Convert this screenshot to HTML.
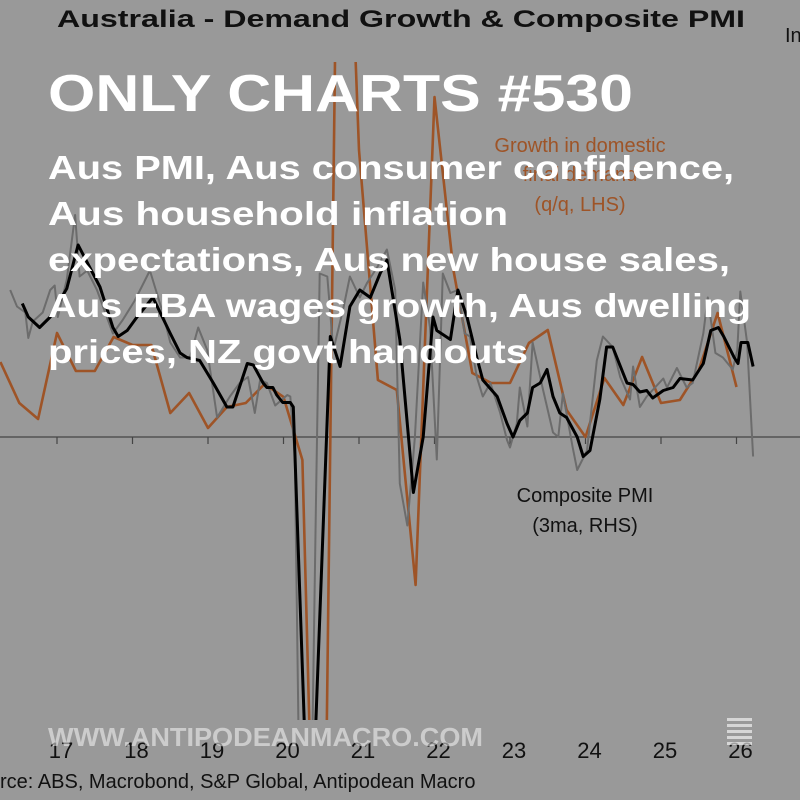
<!DOCTYPE html>
<html><head><meta charset="utf-8"><style>
html,body{margin:0;padding:0;background:#999999;width:800px;height:800px;overflow:hidden;}
svg{display:block;}
</style></head><body>
<svg id="chart" width="800" height="800" viewBox="0 0 800 800" xmlns="http://www.w3.org/2000/svg" font-family="'Liberation Sans', sans-serif">
<rect x="0" y="0" width="800" height="800" fill="#999999"/>
<defs><clipPath id="plotclip"><rect x="0" y="62" width="800" height="658"/></clipPath></defs>
<text x="57" y="27" font-size="24" font-weight="bold" fill="#111" textLength="688" lengthAdjust="spacingAndGlyphs">Australia - Demand Growth &amp; Composite PMI</text>
<text x="785" y="42" font-size="20" fill="#111">In</text>
<line x1="0" y1="437" x2="800" y2="437" stroke="#444" stroke-width="1.2"/>
<g id="ticks"></g>
<g id="xlabels" font-size="22" fill="#111"></g>
<g clip-path="url(#plotclip)">
<path id="orange" fill="none" stroke="#9e5427" stroke-width="2.6" stroke-linejoin="round"/>
<path id="gray" fill="none" stroke="#6c6c6c" stroke-width="2" stroke-linejoin="round"/>
<path id="black" fill="none" stroke="#000" stroke-width="3" stroke-linejoin="round"/>
</g>
<text x="580" y="152" font-size="20" fill="#9e5427" text-anchor="middle">Growth in domestic</text>
<text x="580" y="181" font-size="20" fill="#9e5427" text-anchor="middle">final demand</text>
<text x="580" y="211" font-size="20" fill="#9e5427" text-anchor="middle">(q/q, LHS)</text>
<text x="585" y="502" font-size="20" fill="#111" text-anchor="middle">Composite PMI</text>
<text x="585" y="532" font-size="20" fill="#111" text-anchor="middle">(3ma, RHS)</text>
<text x="0" y="788" font-size="20" fill="#111">rce: ABS, Macrobond, S&amp;P Global, Antipodean Macro</text>
<text x="48" y="111" font-size="52" font-weight="bold" fill="#fff" textLength="585" lengthAdjust="spacingAndGlyphs">ONLY CHARTS #530</text>
<g font-size="33" font-weight="bold" fill="#fff">
<text x="48" y="179" textLength="686" lengthAdjust="spacingAndGlyphs">Aus PMI, Aus consumer confidence,</text>
<text x="48" y="225" textLength="460" lengthAdjust="spacingAndGlyphs">Aus household inflation</text>
<text x="48" y="271" textLength="682" lengthAdjust="spacingAndGlyphs">expectations, Aus new house sales,</text>
<text x="48" y="317" textLength="703" lengthAdjust="spacingAndGlyphs">Aus EBA wages growth, Aus dwelling</text>
<text x="48" y="363" textLength="480" lengthAdjust="spacingAndGlyphs">prices, NZ govt handouts</text>
</g>
<text x="48" y="746" font-size="26" font-weight="bold" fill="#fff" fill-opacity="0.5" textLength="435" lengthAdjust="spacingAndGlyphs">WWW.ANTIPODEANMACRO.COM</text>
<g fill="#fff" fill-opacity="0.6">
<rect x="727" y="718" width="25" height="3"/><rect x="727" y="724" width="25" height="3"/><rect x="727" y="730" width="25" height="3"/><rect x="727" y="736" width="25" height="3"/><rect x="727" y="742" width="25" height="3"/>
</g>
</svg>
<script>
const years = [2017,2018,2019,2020,2021,2022,2023,2024,2025,2026];
const yearLabels = ["17","18","19","20","21","22","23","24","25","26"];
const demandDates = [2016.25,2016.5,2016.75,2017,2017.25,2017.5,2017.75,2018,2018.25,2018.5,2018.75,2019,2019.25,2019.5,2019.75,2020,2020.25,2020.5,2020.75,2021,2021.25,2021.5,2021.75,2022,2022.25,2022.5,2022.75,2023,2023.25,2023.5,2023.75,2024,2024.25,2024.5,2024.75,2025,2025.25,2025.5,2025.75,2026];
const demandValues = [0.75,0.34,0.18,1.04,0.66,0.66,1.00,0.92,0.92,0.24,0.44,0.09,0.30,0.34,0.53,0.40,-0.23,-7.4,7.9,2.87,0.57,0.47,-1.48,3.40,1.67,0.64,0.54,0.54,0.94,1.07,0.27,0.00,0.59,0.32,0.80,0.34,0.37,0.67,1.24,0.50];
const pmiDates = [2016.38,2016.47,2016.58,2016.62,2016.68,2016.81,2016.91,2016.97,2017.01,2017.13,2017.24,2017.30,2017.40,2017.53,2017.66,2017.74,2017.87,2018.03,2018.23,2018.40,2018.50,2018.63,2018.76,2018.87,2018.99,2019.12,2019.29,2019.42,2019.53,2019.62,2019.69,2019.78,2019.89,2020.05,2020.09,2020.15,2020.22,2020.35,2020.43,2020.48,2020.58,2020.66,2020.79,2020.88,2021.01,2021.11,2021.24,2021.37,2021.48,2021.54,2021.64,2021.74,2021.85,2021.94,2022.03,2022.11,2022.21,2022.31,2022.40,2022.47,2022.56,2022.64,2022.74,2022.87,2022.96,2023.00,2023.09,2023.13,2023.23,2023.30,2023.44,2023.57,2023.64,2023.70,2023.83,2023.89,2024.02,2024.15,2024.23,2024.36,2024.46,2024.59,2024.63,2024.72,2024.81,2025.03,2025.08,2025.21,2025.34,2025.42,2025.56,2025.62,2025.72,2025.82,2025.95,2026.01,2026.05,2026.14,2026.22];
const pmiValues = [59.8,58.7,58.3,56.6,57.7,58.3,59.8,60.1,58.0,60.5,64.8,60.7,61.1,59.8,58.0,56.9,57.8,59.1,61.1,58.3,56.3,55.3,55.3,57.3,55.8,51.3,52.7,53.6,54.0,51.6,53.8,53.6,52.1,52.8,52.7,48.7,22.5,19.1,45.8,60.9,60.7,55.8,58.5,60.7,59.3,60.3,61.3,62.5,59.8,46.9,44.1,50.0,60.3,57.3,48.5,60.9,59.6,59.8,56.9,56.7,54.0,52.7,53.6,51.6,49.8,49.3,50.9,53.3,50.7,56.3,53.1,50.3,50.0,52.9,49.3,47.8,49.1,55.1,56.7,56.0,54.0,52.5,54.7,52.0,52.7,53.9,53.3,54.6,53.3,53.6,56.9,59.3,55.6,55.3,54.5,55.8,59.7,56.3,48.7];
const pmi3maDates = [2016.54,2016.62,2016.77,2016.91,2017.13,2017.28,2017.57,2017.74,2017.81,2017.93,2018.06,2018.27,2018.50,2018.63,2018.72,2018.89,2019.07,2019.25,2019.33,2019.52,2019.60,2019.73,2019.78,2019.86,2019.91,2019.99,2020.09,2020.13,2020.31,2020.39,2020.62,2020.75,2020.88,2021.01,2021.15,2021.28,2021.37,2021.54,2021.72,2021.85,2021.98,2022.03,2022.21,2022.31,2022.43,2022.56,2022.64,2022.83,2022.96,2023.04,2023.13,2023.23,2023.30,2023.40,2023.49,2023.57,2023.66,2023.75,2023.89,2023.97,2024.06,2024.19,2024.28,2024.36,2024.55,2024.63,2024.72,2024.81,2024.89,2025.03,2025.16,2025.25,2025.42,2025.56,2025.66,2025.76,2025.83,2025.97,2026.02,2026.06,2026.15,2026.22];
const pmi3maValues = [58.9,58.0,57.3,58.0,59.9,62.8,60.0,57.3,56.7,57.1,58.0,59.3,56.9,55.6,55.3,55.1,53.6,52.0,52.0,54.9,54.8,53.6,53.3,53.3,52.8,52.3,52.3,52.0,25.8,25.8,56.7,54.7,58.7,59.8,59.3,60.9,61.8,56.5,46.3,50.0,58.0,57.1,56.5,59.8,58.0,55.3,53.8,52.7,50.9,50.0,51.1,51.6,53.3,53.6,54.5,52.7,51.6,51.3,50.0,48.7,49.1,52.5,56.0,56.0,53.6,53.5,53.0,53.1,52.6,53.1,53.3,53.9,53.8,54.9,57.1,57.3,56.7,55.3,54.9,56.3,56.3,54.7];

const Y_MIN = 4, Y_MAX = 790;
function xAt(t){ return 57 + (t - 2017) * 75.5; }
function yLhs(v){ return 437 - v * 100; }
function yRhs(v){ return 437 - (v - 50) * 15; }
function clampY(y){ return Math.max(Y_MIN, Math.min(Y_MAX, y)); }
function pathFrom(ds, vs, yf){
  const pts = [];
  for (let i = 0; i < ds.length; i++) pts.push([xAt(ds[i]), yf(vs[i])]);
  const out = [];
  for (let i = 0; i < pts.length; i++) {
    const [x1, y1] = pts[i];
    if (i > 0) {
      const [x0, y0] = pts[i - 1];
      [Y_MIN, Y_MAX].forEach(b => {
        if ((y0 - b) * (y1 - b) < 0) {
          const xb = x0 + (x1 - x0) * (b - y0) / (y1 - y0);
          out.push([xb, b]);
        }
      });
      if (out.length >= 2) {
        const a = out[out.length - 1], c = out[out.length - 2];
        if (out.length >= 2 && a[0] < c[0]) { out[out.length - 1] = c; out[out.length - 2] = a; }
      }
    }
    out.push([x1, clampY(y1)]);
  }
  let d = "";
  out.forEach((p, i) => { d += (i ? "L" : "M") + p[0].toFixed(1) + " " + p[1].toFixed(1); });
  return d;
}
document.getElementById('orange').setAttribute('d', pathFrom(demandDates, demandValues, yLhs));
document.getElementById('gray').setAttribute('d', pathFrom(pmiDates, pmiValues, yRhs));
document.getElementById('black').setAttribute('d', pathFrom(pmi3maDates, pmi3maValues, yRhs));

const NS = "http://www.w3.org/2000/svg";
const tg = document.getElementById('ticks');
const lg = document.getElementById('xlabels');
for (let i = 0; i < years.length; i++) {
  const x = xAt(years[i]);
  const tk = document.createElementNS(NS, 'line');
  
  
  tk.setAttribute('x1', x); tk.setAttribute('x2', x);
  tk.setAttribute('y1', 437); tk.setAttribute('y2', 444);
  tk.setAttribute('stroke', '#444'); tk.setAttribute('stroke-width', '1.2');
  tg.appendChild(tk);
  const lb = document.createElementNS(NS, 'text');
  
  
  lb.setAttribute('x', x + 4); lb.setAttribute('y', 758);
  lb.setAttribute('text-anchor', 'middle');
  lb.textContent = yearLabels[i];
  lg.appendChild(lb);
}
</script>
</body></html>
